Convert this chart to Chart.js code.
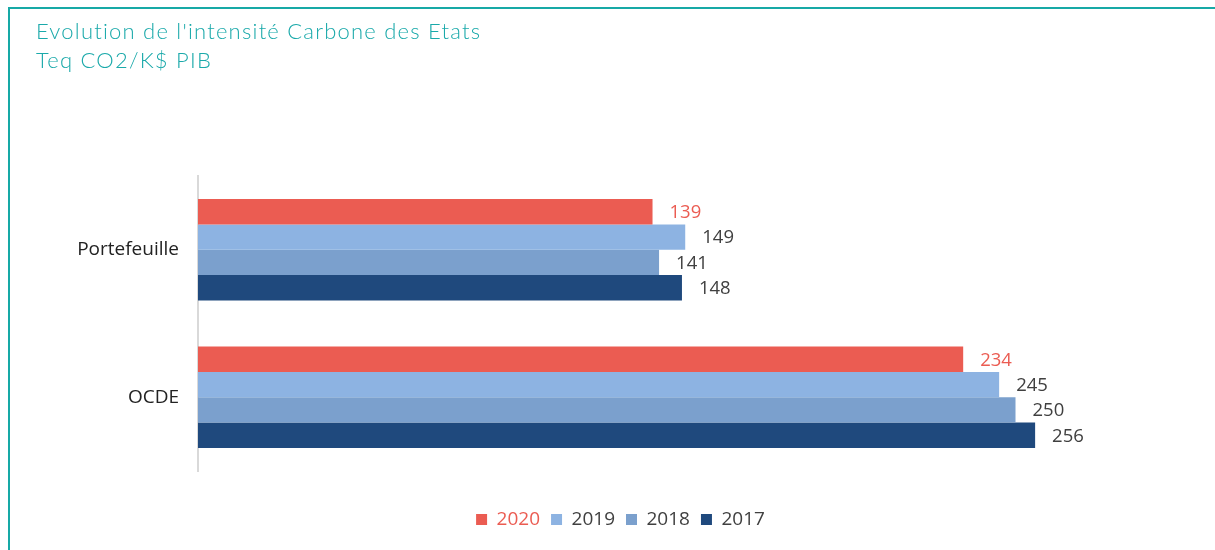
<!DOCTYPE html>
<html>
<head>
<meta charset="utf-8">
<script src="https://cdn.jsdelivr.net/npm/chart.js@4.4.1/dist/chart.umd.min.js"></script>
<style>
  html, body { margin: 0; padding: 0; background: #fff; }
  #wrap { position: relative; width: 1215px; height: 550px; overflow: hidden; }
  #frameTop { position: absolute; left: 8px; top: 7px; width: 1207px; height: 2px; background: #17a9a6; }
  #frameLeft { position: absolute; left: 8px; top: 7px; width: 2px; height: 543px; background: #17a9a6; }
  #title { position: absolute; left: 36px; top: 16px; font-family: Lato, sans-serif; font-weight: 300;
           font-size: 22px; line-height: 29px; letter-spacing: 1.22px; color: #1aa9aa; white-space: nowrap;
           font-variant-ligatures: none; }
  canvas { position: absolute; left: 0; top: 0; }
</style>
</head>
<body>
<div id="wrap">
  <canvas id="c" width="1215" height="550"></canvas>
  <div id="frameTop"></div>
  <div id="frameLeft"></div>
  <div id="title">Evolution de l'intensité Carbone des Etats<br>Teq CO2/K$ PIB</div>
</div>
<script>
const categories = ["Portefeuille", "OCDE"];
const seriesNames = ["2020", "2019", "2018", "2017"];
const values2020 = [139, 234];
const values2019 = [149, 245];
const values2018 = [141, 250];
const values2017 = [148, 256];
const seriesColors = ["#eb5c52", "#8db3e2", "#7ba0cd", "#1f497d"];
const labelColors = ["#eb5c52", "#404040", "#404040", "#404040"];
const allValues = [values2020, values2019, values2018, values2017];

const valueLabels = {
  id: 'valueLabels',
  afterDatasetsDraw(chart) {
    const ctx = chart.ctx;
    ctx.save();
    ctx.font = '18.5px "Open Sans", sans-serif';
    ctx.textBaseline = 'middle';
    ctx.textAlign = 'left';
    chart.data.datasets.forEach((ds, i) => {
      const meta = chart.getDatasetMeta(i);
      ctx.fillStyle = labelColors[i];
      meta.data.forEach((el, j) => {
        ctx.fillText(String(ds.data[j]), el.x + 17, el.y + 1);
      });
    });
    ctx.restore();
  }
};

new Chart(document.getElementById('c'), {
  type: 'bar',
  data: {
    labels: categories,
    datasets: seriesNames.map((n, i) => ({
      label: n,
      data: allValues[i],
      backgroundColor: seriesColors[i],
      borderWidth: 0,
      barPercentage: 1,
      categoryPercentage: 0.687
    }))
  },
  options: {
    indexAxis: 'y',
    responsive: false,
    animation: false,
    devicePixelRatio: 1,
    layout: { padding: { left: 62, right: 36, top: 176, bottom: 11 } },
    scales: {
      x: {
        min: 0, max: 300,
        display: true,
        grid: { display: false },
        border: { display: false },
        ticks: { display: false },
        afterFit(s) { s.height = 28; }
      },
      y: {
        grid: { display: false, drawTicks: false },
        border: { display: true, color: '#d9d9d9', width: 2 },
        ticks: { color: '#222', font: { family: '"Open Sans", sans-serif', size: 19 }, padding: 19 },
        afterFit(s) { s.width = 136; }
      }
    },
    plugins: {
      tooltip: { enabled: false },
      legend: {
        position: 'bottom',
        labels: {
          boxWidth: 11, boxHeight: 11, padding: 11,
          font: { family: '"Open Sans", sans-serif', size: 19 },
          generateLabels(chart) {
            return chart.data.datasets.map((ds, i) => ({
              text: ds.label,
              fillStyle: seriesColors[i],
              strokeStyle: seriesColors[i],
              lineWidth: 0,
              fontColor: labelColors[i],
              datasetIndex: i,
              hidden: false
            }));
          }
        }
      }
    }
  },
  plugins: [valueLabels]
});
</script>
</body>
</html>
